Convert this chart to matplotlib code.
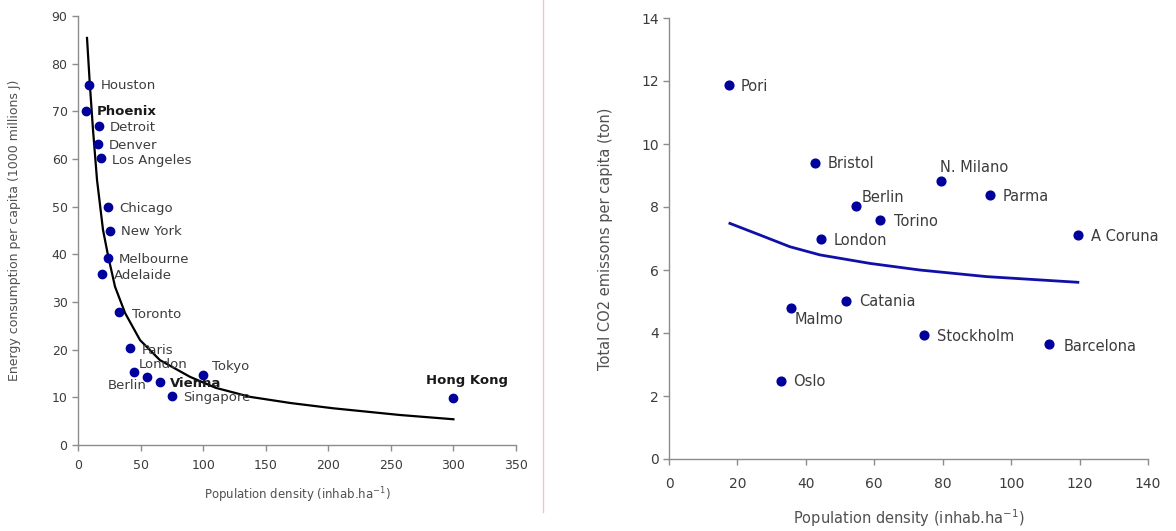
import matplotlib
matplotlib.use("Agg")
import matplotlib.pyplot as plt
from matplotlib.lines import Line2D

# --- left panel: energy use vs density (world cities) ---
world_cities = ["Houston", "Phoenix", "Detroit", "Denver", "Los Angeles", "Chicago",
                "New York", "Melbourne", "Adelaide", "Toronto", "Paris", "London",
                "Berlin", "Vienna", "Singapore", "Tokyo", "Hong Kong"]
world_density = [8.8, 6.4, 16.8, 16.0, 18.4, 24.0, 25.6, 24.0, 19.2, 32.8, 41.6, 44.8,
                 55.2, 65.5, 75.1, 99.9, 299.8]
world_energy = [75.5, 70.0, 66.9, 63.1, 60.2, 49.9, 44.9, 39.2, 35.9, 27.9, 20.3, 15.3,
                14.3, 13.2, 10.3, 14.7, 9.9]
world_bold = ["Phoenix", "Vienna", "Hong Kong"]

# trend line
world_trend_x = [7.2, 9.4, 12, 15.2, 20, 24.2, 29.6, 37.6, 49.6, 65.5, 89.5, 110, 137.5, 170, 204, 257, 300]
world_trend_y = [85.4, 75.9, 66.1, 55.6, 45.1, 39.5, 33.2, 27.7, 22.0, 17.8, 14.3, 12.0, 10.1, 8.8, 7.7, 6.3, 5.4]

# --- right panel: CO2 vs density (european cities) ---
eu_cities = ["Pori", "Bristol", "N. Milano", "Berlin", "Parma", "Torino", "London",
             "A Coruna", "Catania", "Malmo", "Stockholm", "Barcelona", "Oslo"]
eu_density = [17.5, 42.6, 79.4, 54.6, 93.7, 61.6, 44.4, 119.4, 51.7, 35.6, 74.5, 111.2, 32.7]
eu_co2 = [11.87, 9.4, 8.83, 8.03, 8.38, 7.59, 6.98, 7.11, 5.02, 4.79, 3.94, 3.65, 2.48]

eu_trend_x = [17.8, 26.6, 35.3, 44.1, 58.7, 73.3, 92.8, 119.5]
eu_trend_y = [7.48, 7.11, 6.74, 6.48, 6.21, 6.0, 5.79, 5.61]

# label offsets in pixels (dx, dy, ha)
world_offsets = {
    "Houston": (12, 0, "left"), "Phoenix": (11, 0, "left"), "Detroit": (11, -1, "left"),
    "Denver": (11, -1, "left"), "Los Angeles": (11, -2, "left"), "Chicago": (11, -1, "left"),
    "New York": (11, -1, "left"), "Melbourne": (11, -1, "left"), "Adelaide": (12, -2, "left"),
    "Toronto": (13, -2, "left"), "Paris": (12, -2, "left"), "London": (5, 8, "left"),
    "Berlin": (0, -9, "right"), "Vienna": (10, -1, "left"), "Singapore": (11, -2, "left"),
    "Tokyo": (9, 8, "left"), "Hong Kong": (14, 17, "center"),
}
eu_offsets = {
    "Pori": (12, -1, "left"), "Bristol": (13, -1, "left"), "N. Milano": (-1, 13, "left"),
    "Berlin": (6, 9, "left"), "Parma": (13, -1, "left"), "Torino": (14, -2, "left"),
    "London": (13, -1, "left"), "A Coruna": (13, -1, "left"), "Catania": (13, -1, "left"),
    "Malmo": (4, -11, "left"), "Stockholm": (13, -2, "left"), "Barcelona": (14, -2, "left"),
    "Oslo": (12, -1, "left"),
}

DOT = "#00009c"
GRID_GREY = "#8c8c8c"
TXT = "#3c3c3c"


def style_axes(ax, tick_size, pad):
    for side in ["top", "right"]:
        ax.spines[side].set_visible(False)
    for side in ["left", "bottom"]:
        ax.spines[side].set_color(GRID_GREY)
        ax.spines[side].set_linewidth(1.0)
    ax.tick_params(colors=GRID_GREY, labelcolor=TXT, labelsize=tick_size,
                   direction="out", length=4, width=1)
    ax.tick_params(axis="x", pad=pad)


fig = plt.figure(figsize=(11.76, 5.31), dpi=100)

# left
ax1 = fig.add_axes([78 / 1176, 1 - 445 / 531, 438 / 1176, 429 / 531])
ax1.plot(world_trend_x, world_trend_y, color="black", lw=1.6, zorder=2)
ax1.plot(world_density, world_energy, "o", color=DOT, ms=6, zorder=3, clip_on=False)
for name, x, y in zip(world_cities, world_density, world_energy):
    dx, dy, ha = world_offsets[name]
    bold = name in world_bold
    ax1.annotate(name, (x, y), xytext=(dx, dy), textcoords="offset pixels",
                 ha=ha, va="center", fontsize=9.5,
                 fontweight="bold" if bold else "normal",
                 color="#1a1a1a" if bold else TXT, zorder=4)
ax1.set_xlim(0, 350)
ax1.set_ylim(0, 90)
ax1.set_xticks(range(0, 351, 50))
ax1.set_yticks(range(0, 91, 10))
style_axes(ax1, 9, 6)
ax1.set_xlabel("Population density (inhab.ha$^{-1}$)", fontsize=8.5, color="#505050", labelpad=10)
ax1.set_ylabel("Energy consumption per capita (1000 millions J)", fontsize=9, color="#505050", labelpad=22)

# right
ax2 = fig.add_axes([669 / 1176, 1 - 459 / 531, 479 / 1176, 441 / 531])
ax2.plot(eu_trend_x, eu_trend_y, color="#1010a8", lw=2, zorder=2)
ax2.plot(eu_density, eu_co2, "o", color=DOT, ms=6.3, zorder=3)
for name, x, y in zip(eu_cities, eu_density, eu_co2):
    dx, dy, ha = eu_offsets[name]
    ax2.annotate(name, (x, y), xytext=(dx, dy), textcoords="offset pixels",
                 ha=ha, va="center", fontsize=10.5, color=TXT, zorder=4)
ax2.set_xlim(0, 140)
ax2.set_ylim(0, 14)
ax2.set_xticks(range(0, 141, 20))
ax2.set_yticks(range(0, 15, 2))
style_axes(ax2, 10, 9)
ax2.set_xlabel("Population density (inhab.ha$^{-1}$)", fontsize=10.5, color="#505050", labelpad=12)
ax2.set_ylabel("Total CO2 emissons per capita (ton)", fontsize=10.5, color="#505050", labelpad=20)

# thin separator between the two panels
fig.add_artist(Line2D([543 / 1176, 543 / 1176], [1.0, 1 - 512 / 531],
                      transform=fig.transFigure, color="#f2c4c4", lw=1))

fig.savefig("out.png", dpi=100)
